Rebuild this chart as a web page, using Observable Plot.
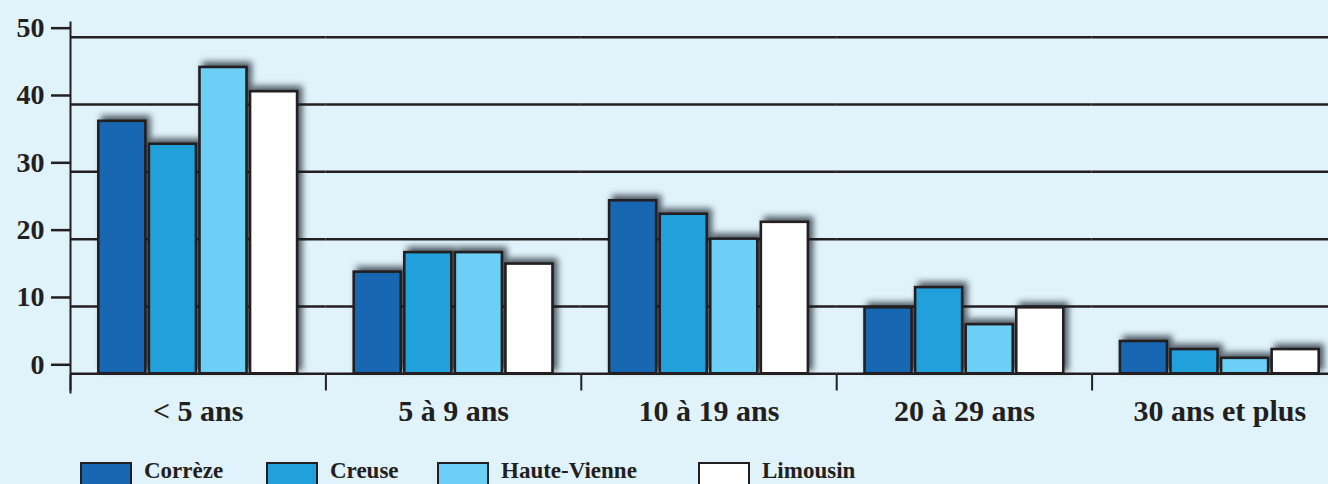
<!DOCTYPE html>
<html>
<head>
<meta charset="utf-8">
<script src="https://cdn.jsdelivr.net/npm/d3@7"></script>
<script src="https://cdn.jsdelivr.net/npm/@observablehq/plot@0.6"></script>
<style>
  html, body { margin: 0; padding: 0; background: #e0f2fa; }
  #wrap { position: relative; width: 1328px; height: 484px; overflow: hidden; background: #e0f2fa; }
  #chart svg { display: block; }
  #chart g[aria-label="bar"] { filter: drop-shadow(4px -4px 3px rgba(15, 25, 35, 0.7)); }
  #legend { position: absolute; top: 460px; left: 0; width: 1328px; height: 30px;
            font-family: "Liberation Serif", serif; font-weight: bold; font-size: 23px; color: #231f20; }
  .item { position: absolute; top: 0; display: flex; align-items: flex-start; }
  .item:nth-child(1) { left: 80px; }
  .item:nth-child(2) { left: 266px; }
  .item:nth-child(3) { left: 437px; }
  .item:nth-child(4) { left: 698px; }
  .sw { width: 48px; height: 26px; margin-top: 2px; border: 2.5px solid #231f20; box-sizing: content-box; margin-right: 12px; }
  .lb { line-height: 22px; margin-top: 0px; }
</style>
</head>
<body>
<div id="wrap">
  <div id="chart"></div>
  <div id="legend"></div>
</div>
<script>
const categories = ["< 5 ans", "5 à 9 ans", "10 à 19 ans", "20 à 29 ans", "30 ans et plus"];
const series = ["Corrèze", "Creuse", "Haute-Vienne", "Limousin"];
const correze = [37.5, 15.1, 25.7, 9.8, 4.8];
const creuse = [34.1, 18.0, 23.7, 12.8, 3.6];
const hauteVienne = [45.5, 18.0, 20.0, 7.3, 2.3];
const limousin = [41.9, 16.3, 22.5, 9.8, 3.6];
const yTicks = [0, 10, 20, 30, 40, 50];
const colors = ["#1767b2", "#21a1dc", "#6bcff6", "#ffffff"];

const valuesBySeries = [correze, creuse, hauteVienne, limousin];
const data = categories.flatMap((c, i) =>
  series.map((s, j) => ({category: c, series: s, value: valuesBySeries[j][i]})));

const ink = "#231f20";

const chart = Plot.plot({
  width: 1328,
  height: 440,
  marginLeft: 70,
  marginRight: -19,
  marginTop: 22,
  marginBottom: 48,
  style: {background: "transparent", fontFamily: "Liberation Serif, serif", color: ink, overflow: "hidden"},
  fx: {domain: categories, paddingInner: 0, paddingOuter: 0, round: false, label: null},
  x: {domain: series, paddingInner: 0.07, paddingOuter: 0.56, round: false, axis: null},
  y: {domain: [-2.78, 52.18]},
  color: {domain: series, range: colors},
  marks: [
    Plot.gridY(yTicks, {stroke: ink, strokeOpacity: 1, strokeWidth: 2.5}),
    Plot.axisY(yTicks, {tickSize: 19, tickPadding: 7, dy: -9, fontSize: 28, fontWeight: "bold",
      stroke: ink, strokeWidth: 2.5, fill: ink, label: null}),
    Plot.frame({anchor: "left", facetAnchor: "left", stroke: ink, strokeWidth: 2}),
    Plot.frame({anchor: "left", insetTop: 353, insetBottom: 3, stroke: ink, strokeWidth: 2}),
    Plot.barY(data, {fx: "category", x: "series", y: "value", fill: "series", stroke: ink, strokeWidth: 2.6}),
    Plot.axisFx({anchor: "bottom", tickSize: 0, tickPadding: 7, fontSize: 30, fontWeight: "bold", fill: ink, label: null})
  ]
});
document.getElementById("chart").appendChild(chart);

const legend = document.getElementById("legend");
series.forEach((s, j) => {
  const item = document.createElement("div");
  item.className = "item";
  const sw = document.createElement("div");
  sw.className = "sw";
  sw.style.background = colors[j];
  const lb = document.createElement("div");
  lb.className = "lb";
  lb.textContent = s;
  item.appendChild(sw);
  item.appendChild(lb);
  legend.appendChild(item);
});
</script>
</body>
</html>
